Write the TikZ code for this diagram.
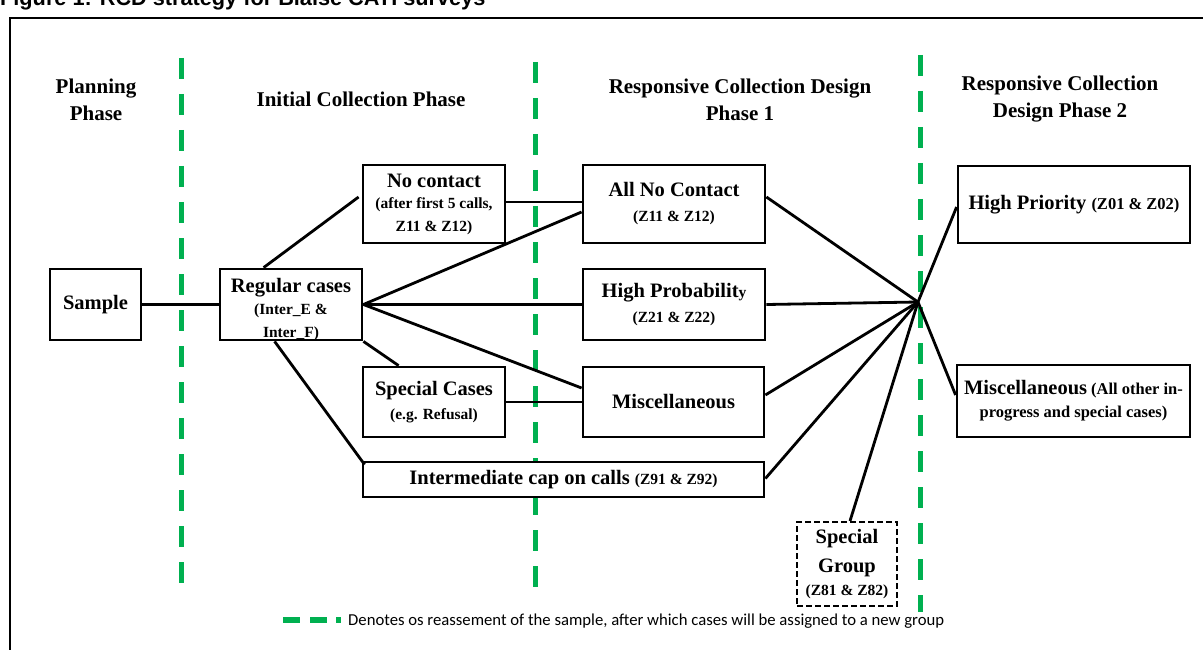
\documentclass[tikz,border=0pt]{standalone}
\usepackage{fontspec}
\setmainfont{Liberation Serif}
\newfontfamily\titlefont{Liberation Sans}
\newfontfamily\legendfont{Carlito}
\definecolor{rcdgreen}{RGB}{0,176,80}
\newcommand\fbig{\fontsize{20.5}{22}\selectfont}
\newcommand\fhdr{\fontsize{21}{27}\selectfont}
\newcommand\fsmall{\fontsize{15.5}{22}\selectfont}
\newcommand\fmid{\fontsize{16.5}{23}\selectfont}
\begin{document}
\begin{tikzpicture}[x=1pt,y=-1pt,
  box/.style={draw, fill=white, line width=2.8pt, inner sep=0pt, align=center, font=\bfseries\fsmall},
  conn/.style={line width=2.8pt},
  phaseline/.style={draw=rcdgreen, line width=5pt, dash pattern=on 21pt off 15pt},
  hdr/.style={font=\bfseries\fhdr, align=center, inner sep=0pt}]
\useasboundingbox (0,0) rectangle (1203,650);
% title and frame
\node[anchor=base west, inner sep=0pt, font=\titlefont\bfseries\fontsize{21.7}{24}\selectfont] (title) at (0,5.5) {Figure 1: RCD strategy for Blaise CATI surveys};
\draw[line width=2pt] (10,650) -- (10,18) -- (1210,18);
% phase separators
\draw[phaseline] (181,58) -- (181,590);
\draw[phaseline] (535,62) -- (535,594);
\draw[phaseline] (920,55) -- (920,612);
% headers
\node[hdr] (h1) at (96,99.5) {Planning\\Phase};
\node[hdr] (h2) at (361,99) {Initial Collection Phase};
\node[hdr] (h3) at (740,99.5) {Responsive Collection Design\\Phase 1};
\node[hdr] (h4) at (1060,99.5) {Responsive Collection\\Design Phase 2};
% boxes
\node[box, minimum width=91pt, minimum height=71pt] (sample) at (95.5,304.5) {\fbig Sample};
\node[box, minimum width=142pt, minimum height=71pt] (reg) at (291,304.5) {};
\node[align=center, inner sep=0pt, font=\bfseries\fsmall, anchor=north] (regtxt) at (291,278) {\fbig Regular cases\\(Inter\_E \&\\[1pt]Inter\_F)};
\node[box, minimum width=142pt, minimum height=78pt] (nc) at (434,204) {\fbig No contact\\[-1pt](after first 5 calls,\\[1pt]Z11 \& Z12)};
\node[box, minimum width=182pt, minimum height=78pt] (anc) at (674,204) {\fbig All No Contact\\[3pt](Z11 \& Z12)};
\node[box, minimum width=182pt, minimum height=71pt] (hp) at (674,304.5) {\fbig High Probabilit{\fsmall y}\\[3pt](Z21 \& Z22)};
\node[box, minimum width=142pt, minimum height=70pt] (sc) at (434,402) {\fbig Special Cases\\[2pt](e.g. Refusal)};
\node[box, minimum width=181pt, minimum height=70pt] (misc) at (673.5,402) {\fbig Miscellaneous};
\node[box, minimum width=401pt, minimum height=35pt] (ic) at (563.5,479.5) {\fbig Intermediate cap on calls {\fsmall (Z91 \& Z92)}};
\node[box, dash pattern=on 6pt off 3pt, line width=2pt, minimum width=100pt, minimum height=84pt] (sg) at (847,564) {\fbig Special\\[7pt]\fbig Group\\[1pt](Z81 \& Z82)};
\node[box, minimum width=232pt, minimum height=77pt] (hpr) at (1074,204.5) {\fbig High Priority {\fmid (Z01 \& Z02)}};
\node[box, minimum width=233pt, minimum height=72pt, font=\bfseries\fmid] (mr) at (1073.5,401) {{\fbig Miscellaneous} (All other in-\\progress and special cases)};
% hub
\coordinate (hub) at (918,302);
% connectors
\draw[conn] (sample.east) -- (reg.west);
\draw[conn] ([xshift=45pt]reg.north west) -- ([xshift=-3pt,yshift=7pt]nc.west);
\draw[conn] (reg.east) -- ([yshift=-8pt]anc.west);
\draw[conn] (reg.east) -- (hp.west);
\draw[conn] (reg.east) -- ([yshift=14pt]misc.west);
\draw[conn] (reg.south east) -- ([xshift=37pt]sc.north west);
\draw[conn] ([xshift=56pt]reg.south west) -- ([xshift=3pt,yshift=-4pt]ic.north west);
\draw[conn] ([yshift=2pt]nc.east) -- ([yshift=2pt]anc.west);
\draw[conn] (sc.east) -- (misc.west);
\draw[conn] ([yshift=7pt]anc.east) -- (hub);
\draw[conn] (hp.east) -- (hub);
\draw[conn] ([yshift=7pt]misc.east) -- (hub);
\draw[conn] ([yshift=1pt]ic.east) -- (hub);
\draw[conn] ([xshift=3pt]sg.north) -- (hub);
\draw[conn] (hub) -- ([yshift=-2.5pt]hpr.west);
\draw[conn] (hub) -- ([yshift=6pt]mr.west);
% legend
\draw[draw=rcdgreen, line width=6pt] (283,620) -- (300,620);
\draw[draw=rcdgreen, line width=6pt] (310,620) -- (327,620);
\draw[draw=rcdgreen, line width=6pt] (336,620) -- (341,620);
\node[anchor=base west, inner sep=0pt, font=\legendfont\fontsize{16.7}{19}\selectfont] (legend) at (348,625.5) {Denotes os reassement of the sample, after which cases will be assigned to a new group};
\end{tikzpicture}
\end{document}
